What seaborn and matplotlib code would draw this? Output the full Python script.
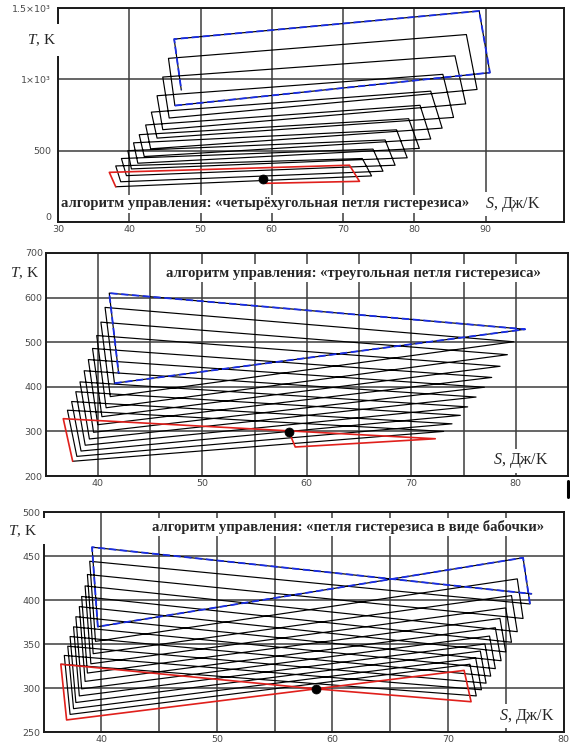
import matplotlib
matplotlib.use("Agg")
import matplotlib.pyplot as plt
from matplotlib.patches import Rectangle
from matplotlib.lines import Line2D
import seaborn as sns

# ---------------- data ----------------
# Panel 1: quadrilateral hysteresis loop (S, J/K ; T, K)
q_dot = (58.7, 302)
q_bl_s = [59.1, 38.1, 38.8, 39.6, 40.3, 41.2, 42.1, 43.0, 43.9, 44.7, 45.6, 46.4]
q_bl_t = [271, 247, 282, 325, 372, 412, 459, 513, 588, 647, 729, 816]
q_br_s = [72.3, 74.0, 75.6, 77.3, 79.0, 80.7, 82.3, 83.9, 85.5, 87.2, 88.8, 90.6]
q_br_t = [285, 323, 356, 398, 450, 516, 582, 658, 733, 828, 929, 1047]
q_tr_s = [70.9, 72.7, 74.2, 75.9, 77.5, 79.2, 80.8, 82.3, 84.0, 85.7, 87.3, 89.1]
q_tr_t = [398, 445, 511, 575, 646, 724, 818, 917, 1035, 1165, 1314, 1479]
q_tl_s = [37.2, 38.1, 38.9, 39.8, 40.6, 41.4, 42.3, 43.1, 43.9, 44.7, 45.5, 46.3]
q_tl_t = [348, 393, 445, 500, 555, 612, 680, 770, 885, 1016, 1147, 1282]
q_end = (47.3, 925)

# Panel 2: triangular hysteresis loop
t_dot = (58.3, 299)
t_bl_s = [58.9, 37.6, 38.0, 38.4, 38.8, 39.2, 39.6, 40.0, 40.4, 40.8, 41.2, 41.6]
t_bl_t = [265, 233, 244, 256, 269, 283, 298, 315, 333, 353, 378, 408]
t_ap_s = [72.3, 73.1, 73.9, 74.7, 75.4, 76.2, 77.0, 77.7, 78.5, 79.2, 79.8, 80.9]
t_ap_t = [283.5, 300, 317, 336, 355, 377, 399, 421, 446, 472, 501, 529]
t_tl_s = [36.7, 37.1, 37.5, 37.9, 38.3, 38.7, 39.1, 39.5, 39.9, 40.3, 40.7, 41.1]
t_tl_t = [328.5, 347.5, 367, 389, 411, 436, 461, 486, 515, 545, 578, 610]
t_end = (42.0, 430)

# Panel 3: butterfly hysteresis loop
b_dot = (58.6, 299)
b_br_s = [72.0, 72.45, 72.9, 73.3, 73.7, 74.1, 74.6, 75.0, 75.5, 76.0, 76.5, 77.1]
b_br_t = [284.4, 291, 298, 305.5, 313.5, 322, 331, 341, 352, 364, 379, 395.5]
b_tr_s = [71.4, 71.9, 72.4, 72.8, 73.2, 73.6, 74.1, 74.5, 75.0, 75.5, 76.0, 76.5]
b_tr_t = [320, 327, 334, 342, 350, 359, 368.5, 379, 391, 405, 424, 448]
b_bl_s = [37.0, 37.3, 37.6, 37.8, 38.1, 38.3, 38.6, 38.8, 39.1, 39.3, 39.5, 39.7]
b_bl_t = [263.7, 270, 276.5, 283.5, 291, 299, 307.5, 317, 327.5, 339, 353, 369.7]
b_tl_s = [36.5, 36.8, 37.1, 37.3, 37.6, 37.8, 38.1, 38.3, 38.6, 38.8, 39.0, 39.2]
b_tl_t = [327, 337, 347.5, 358.5, 369.5, 381, 392.5, 404, 416, 429, 444, 460]
b_end = (77.25, 407)

titles = ["алгоритм управления: «четырёхугольная петля гистерезиса»",
          "алгоритм управления: «треугольная петля гистерезиса»",
          "алгоритм управления: «петля гистерезиса в виде бабочки»"]
y_label = "$\\mathit{T}$, K"
x_label = "$\\mathit{S}$, Дж/K"

p1_xticks = [30, 40, 50, 60, 70, 80, 90]
p1_yticks = [0, 500, 1000, 1500]
p1_ylabels = ["0", "500", "1×10³", "1.5×10³"]
p2_xticks = [40, 50, 60, 70, 80]
p2_yticks = [200, 300, 400, 500, 600, 700]
p3_xticks = [40, 50, 60, 70, 80]
p3_yticks = [250, 300, 350, 400, 450, 500]

# ---------------- style ----------------
sns.set_theme(style="white")
plt.rcParams['font.family'] = ['Liberation Serif', 'DejaVu Serif']
plt.rcParams['mathtext.fontset'] = 'custom'
plt.rcParams['mathtext.rm'] = 'Liberation Serif'
plt.rcParams['mathtext.it'] = 'Liberation Serif:italic'

W, H = 570, 746
fig = plt.figure(figsize=(W / 100, H / 100), dpi=100)


def add_ax(l, r, t, b):
    return fig.add_axes([l / W, 1 - b / H, (r - l) / W, (b - t) / H])


def ftext(x, y, s, **kw):
    kw.setdefault('va', 'center')
    kw.setdefault('ha', 'left')
    fig.text(x / W, 1 - y / H, s, **kw)


def style(ax, xlim, ylim, xmaj, xmin, ymaj, ylabs, ypad):
    ax.set_xlim(*xlim)
    ax.set_ylim(*ylim)
    ax.set_xticks(xmaj)
    ax.set_xticks(xmin, minor=True)
    ax.set_xticklabels([str(v) for v in xmaj])
    ax.set_yticks(ymaj)
    ax.set_yticklabels(ylabs)
    ax.grid(True, which='both', color='#3c3c3c', lw=1.1)
    ax.set_axisbelow(True)
    for sp in ax.spines.values():
        sp.set_color('k')
        sp.set_linewidth(1.4)
    ax.tick_params(which='both', length=0, labelsize=6.8, labelcolor='#4a4a4a')
    ax.tick_params(axis='x', pad=2)
    ax.tick_params(axis='y', pad=ypad)
    for lab in ax.get_xticklabels() + ax.get_yticklabels():
        lab.set_family('DejaVu Sans')
    ax.set_xlabel('')
    ax.set_ylabel('')


def draw(ax, s, t, red_n, red_extra, blue_n, dot):
    # black full trajectory
    sns.lineplot(x=s[red_n - 1:], y=t[red_n - 1:], sort=False, estimator=None,
                 ax=ax, color='black', lw=0.85, zorder=2)
    rs = s[:red_n] + red_extra[0]
    rt = t[:red_n] + red_extra[1]
    sns.lineplot(x=rs, y=rt, sort=False, estimator=None, ax=ax,
                 color='#e0201c', lw=1.2, zorder=3)
    sns.lineplot(x=s[-blue_n:], y=t[-blue_n:], sort=False, estimator=None, ax=ax,
                 color='#1a2ee8', lw=1.3, linestyle=(0, (4, 2)), zorder=4)
    sns.scatterplot(x=[dot[0]], y=[dot[1]], ax=ax, color='black', s=42,
                    edgecolor='black', zorder=5)


# ---- panel 1 ----
ax1 = add_ax(58, 564, 8, 222)
s1, t1 = [q_dot[0]], [q_dot[1]]
for k in range(len(q_br_s)):
    s1 += [q_bl_s[k], q_br_s[k], q_tr_s[k], q_tl_s[k]]
    t1 += [q_bl_t[k], q_br_t[k], q_tr_t[k], q_tl_t[k]]
s1.append(q_end[0]); t1.append(q_end[1])
draw(ax1, s1, t1, 6, ([], []), 5, q_dot)
style(ax1, (30, 101), (0, 1500), p1_xticks, [], p1_yticks, p1_ylabels, 5)
ax1.get_yticklabels()[0].set_verticalalignment('bottom')

# ---- panel 2 ----
ax2 = add_ax(45.5, 568, 253, 476)
s2, t2 = [t_dot[0]], [t_dot[1]]
for k in range(len(t_ap_s)):
    s2 += [t_bl_s[k], t_ap_s[k], t_tl_s[k]]
    t2 += [t_bl_t[k], t_ap_t[k], t_tl_t[k]]
s2.append(t_end[0]); t2.append(t_end[1])
draw(ax2, s2, t2, 5, ([], []), 4, t_dot)
style(ax2, (35, 85), (200, 700), p2_xticks, [45, 55, 65, 75], p2_yticks,
      [str(v) for v in p2_yticks], 2)

# ---- panel 3 ----
ax3 = add_ax(43.5, 563.5, 512, 732)
s3, t3 = [b_dot[0]], [b_dot[1]]
for k in range(len(b_br_s)):
    s3 += [b_br_s[k], b_tr_s[k], b_bl_s[k], b_tl_s[k]]
    t3 += [b_br_t[k], b_tr_t[k], b_bl_t[k], b_tl_t[k]]
s3.append(b_end[0]); t3.append(b_end[1])
draw(ax3, s3, t3, 5, ([b_dot[0]], [b_dot[1]]), 5, b_dot)
style(ax3, (35, 80), (250, 500), p3_xticks, [45, 55, 65, 75], p3_yticks,
      [str(v) for v in p3_yticks], 2)

# ---- texts ----
box = dict(facecolor='white', edgecolor='none', pad=1.5)
fig.add_artist(Rectangle((24 / W, 1 - 56 / H), 38 / W, 32 / H, transform=fig.transFigure,
                         facecolor='white', edgecolor='none', zorder=4))
ftext(27, 40, y_label, fontsize=11, zorder=6)
ftext(61, 204, titles[0], fontsize=10.5, fontweight='bold', bbox=box, zorder=6)
ftext(485, 204, x_label, fontsize=11.5, bbox=box, zorder=6)

ftext(10, 273, y_label, fontsize=11, bbox=box, zorder=6)
ftext(166, 273, titles[1], fontsize=10.5, fontweight='bold', bbox=box, zorder=6)
ftext(493, 461, x_label, fontsize=11.5, bbox=box, zorder=6)

fig.add_artist(Rectangle((6 / W, 1 - 544 / H), 40 / W, 26 / H, transform=fig.transFigure,
                         facecolor='white', edgecolor='none', zorder=4))
ftext(8, 531, y_label, fontsize=11, zorder=6)
ftext(152, 527, titles[2], fontsize=10.5, fontweight='bold', bbox=box, zorder=6)
ftext(499, 716, x_label, fontsize=11.5, bbox=box, zorder=6)

fig.add_artist(Line2D([567.5 / W, 567.5 / W], [1 - 481 / H, 1 - 497 / H],
                      transform=fig.transFigure, color='black', lw=2.2))

fig.savefig("out.png", dpi=100)
